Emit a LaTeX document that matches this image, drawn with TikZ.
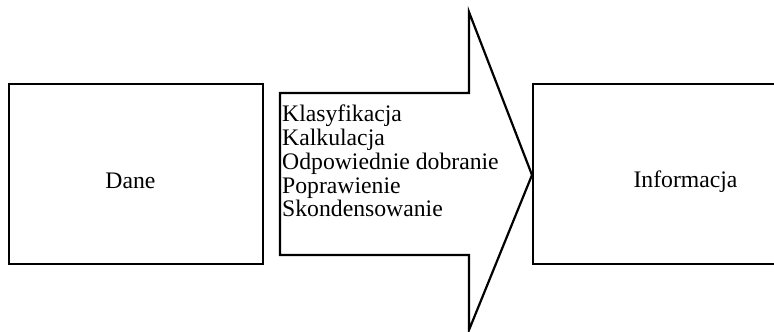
\documentclass[tikz,border=0pt]{standalone}
\usepackage{fontspec}
\setmainfont{Liberation Serif}
\begin{document}
\begin{tikzpicture}[x=1pt,y=-1pt,
  frame/.style={draw=black,line width=2.2pt,line join=miter},
  boxnode/.style={frame,rectangle,inner sep=0pt},
  txt/.style={font=\fontsize{23.7}{23.7}\selectfont,inner sep=0pt}]
\useasboundingbox (0,0) rectangle (774,332);
% left box
\node[boxnode,minimum width=254pt,minimum height=180pt] (dane) at (136,174) {};
\node[txt,anchor=base] (danetxt) at (130.5,188) {Dane};
% right box (cut off at right edge)
\node[boxnode,minimum width=264pt,minimum height=180pt,anchor=west] (info) at (532,174) {};
\node[txt,anchor=base] (infotxt) at (685.5,187) {Informacja};
% big arrow
\coordinate (a1) at (280,93);
\coordinate (a2) at (469,93);
\coordinate (a3) at (469,12);
\coordinate (tip) at (532,175);
\coordinate (a5) at (469,330);
\coordinate (a6) at (469,255);
\coordinate (a7) at (280,255);
\draw[frame] (a1) -- (a2) -- (a3) -- (tip) -- (a5) -- (a6) -- (a7) -- cycle;
\node[txt,anchor=base west,align=left] (steps) at (282,216.7)
  {Klasyfikacja\\Kalkulacja\\Odpowiednie dobranie\\Poprawienie\\Skondensowanie};
\end{tikzpicture}
\end{document}
